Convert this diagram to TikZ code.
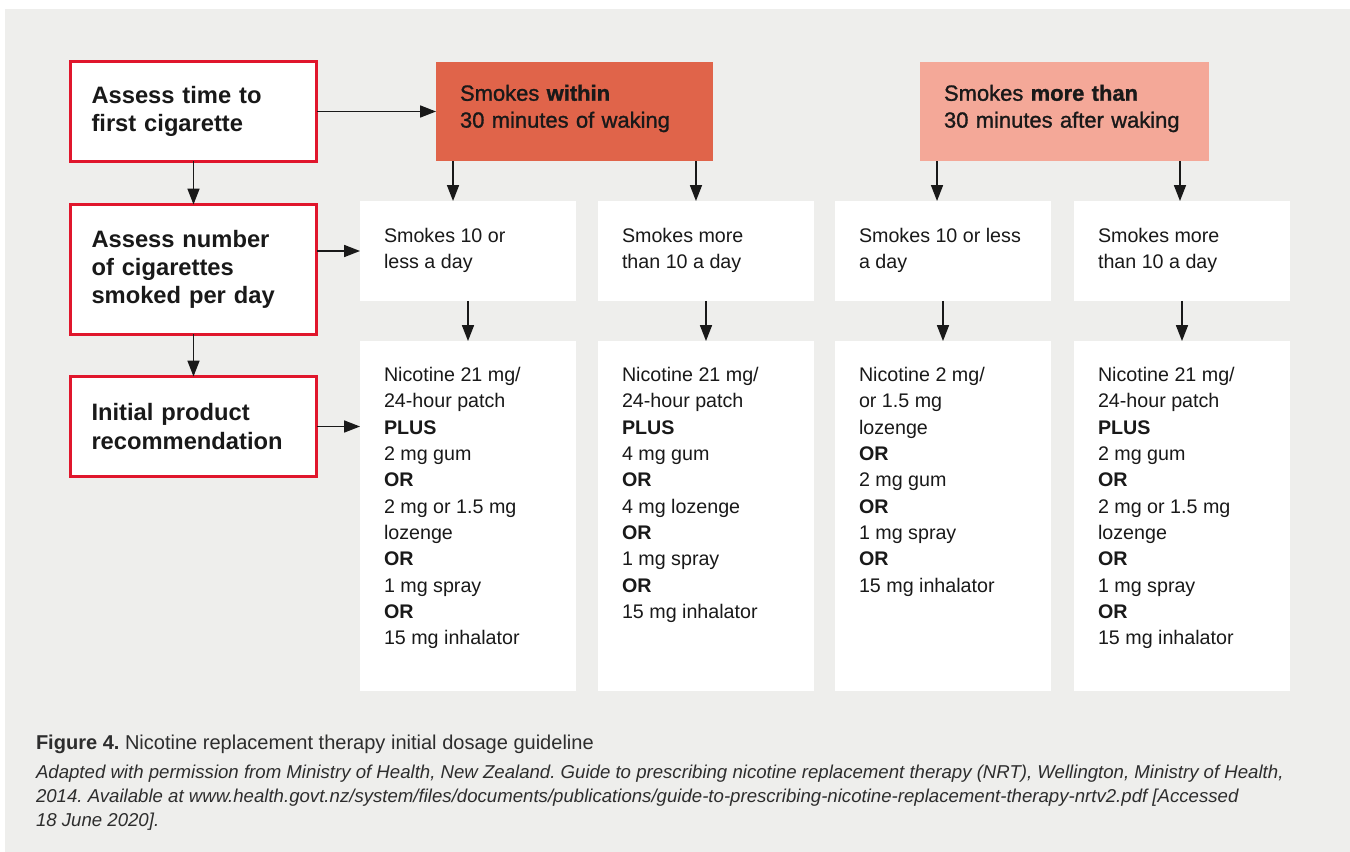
\documentclass[tikz,border=0pt]{standalone}
\usepackage{fontspec}
\setmainfont{Liberation Sans}
\newfontfamily\medfont{Liberation Sans}[FakeBold=1.2]
\usetikzlibrary{arrows.meta}
\definecolor{bggray}{RGB}{238,238,236}
\definecolor{boxred}{RGB}{224,22,44}
\definecolor{hdark}{RGB}{224,100,74}
\definecolor{hlight}{RGB}{244,168,152}
\definecolor{ink}{RGB}{25,25,25}
\definecolor{capink}{RGB}{45,45,45}
\frenchspacing

\begin{document}
\begin{tikzpicture}[x=0.02cm,y=-0.02cm,
    every node/.style={inner sep=0pt,outer sep=0pt,text=ink},
    assess/.style={draw=boxred,line width=1.7pt,fill=white,align=left,
      text width=4.08cm,inner xsep=0.43cm,minimum height=2cm,
      font=\fontsize{13.5}{16}\selectfont\bfseries},
    head/.style={align=left,inner xsep=0.48cm,minimum height=2cm,
      font=\fontsize{12.5}{15.3}\selectfont\medfont},
    card/.style={fill=white,minimum width=4.32cm},
    cardtxt/.style={anchor=north west,align=left,font=\fontsize{11.2}{15}\selectfont},
    arr/.style={-{Triangle[length=9pt,width=6.8pt]},line width=0.8pt,draw=ink}]

  \useasboundingbox (0,0) rectangle (1350,852);
  \fill[white] (0,0) rectangle (1350,852);
  \fill[bggray] (5,9) rectangle (1350,852);

  \node[assess] (a1) at (193.5,111.5) {Assess time to\\first cigarette};
  \node[assess,minimum height=2.6cm] (a2) at (193.5,269.5) {Assess number\\of cigarettes\\smoked per day};
  \node[assess] (a3) at (193.5,426.5) {Initial product\\recommendation};

  \node[head,fill=hdark,text width=4.58cm] (h1) at (574.5,111.5) {Smokes \textbf{within}\\30 minutes of waking\rule[-6pt]{0pt}{1pt}};
  \node[head,fill=hlight,text width=4.82cm] (h2) at (1064.5,111.5) {Smokes \textbf{more than}\\30 minutes after waking\rule[-6pt]{0pt}{1pt}};

  \node[card,minimum height=2cm] (r1) at (468,251) {};
  \node[card,minimum height=2cm] (r2) at (706,251) {};
  \node[card,minimum height=2cm] (r3) at (943,251) {};
  \node[card,minimum height=2cm] (r4) at (1182,251) {};

  \node[card,minimum height=7cm] (p1) at (468,516) {};
  \node[card,minimum height=7cm] (p2) at (706,516) {};
  \node[card,minimum height=7cm] (p3) at (943,516) {};
  \node[card,minimum height=7cm] (p4) at (1182,516) {};

  \node[cardtxt] (t1) at ([shift={(24,27)}]r1.north west) {Smokes 10 or\\less a day};
  \node[cardtxt] (t2) at ([shift={(24,27)}]r2.north west) {Smokes more\\than 10 a day};
  \node[cardtxt] (t3) at ([shift={(24,27)}]r3.north west) {Smokes 10 or less\\a day};
  \node[cardtxt] (t4) at ([shift={(24,27)}]r4.north west) {Smokes more\\than 10 a day};

  \node[cardtxt] (q1) at ([shift={(24,26)}]p1.north west) {Nicotine 21 mg/\\24-hour patch\\\textbf{PLUS}\\2 mg gum\\\textbf{OR}\\2 mg or 1.5 mg\\lozenge\\\textbf{OR}\\1 mg spray\\\textbf{OR}\\15 mg inhalator};
  \node[cardtxt] (q2) at ([shift={(24,26)}]p2.north west) {Nicotine 21 mg/\\24-hour patch\\\textbf{PLUS}\\4 mg gum\\\textbf{OR}\\4 mg lozenge\\\textbf{OR}\\1 mg spray\\\textbf{OR}\\15 mg inhalator};
  \node[cardtxt] (q3) at ([shift={(24,26)}]p3.north west) {Nicotine 2 mg/\\or 1.5 mg\\lozenge\\\textbf{OR}\\2 mg gum\\\textbf{OR}\\1 mg spray\\\textbf{OR}\\15 mg inhalator};
  \node[cardtxt] (q4) at ([shift={(24,26)}]p4.north west) {Nicotine 21 mg/\\24-hour patch\\\textbf{PLUS}\\2 mg gum\\\textbf{OR}\\2 mg or 1.5 mg\\lozenge\\\textbf{OR}\\1 mg spray\\\textbf{OR}\\15 mg inhalator};

  \node[anchor=base west,text=capink,font=\fontsize{11.4}{13.6}\selectfont] (fig) at (36,749) {\textbf{Figure 4.} Nicotine replacement therapy initial dosage guideline};
  \node[anchor=north west,align=left,text=capink,font=\fontsize{10.6}{13.6}\selectfont\itshape] (src) at (36,765) {Adapted with permission from Ministry of Health, New Zealand. Guide to prescribing nicotine replacement therapy (NRT), Wellington, Ministry of Health,\\2014. Available at www.health.govt.nz/system/files/documents/publications/guide-to-prescribing-nicotine-replacement-therapy-nrtv2.pdf [Accessed\\18 June 2020].};

  \draw[arr] (a1) -- (h1);
  \draw[arr] (a1) -- (a2);
  \draw[arr] (a2) -- (a3);
  \draw[arr] (a2.east |- r1.west) -- (r1.west);
  \draw[arr] (a3.east) -- (a3.east -| p1.west);
  \draw[arr] ([xshift=0.34cm]h1.south west) -- ([xshift=0.34cm]h1.south west |- r1.north);
  \draw[arr] ([xshift=-0.34cm]h1.south east) -- ([xshift=-0.34cm]h1.south east |- r2.north);
  \draw[arr] ([xshift=0.34cm]h2.south west) -- ([xshift=0.34cm]h2.south west |- r3.north);
  \draw[arr] ([xshift=-0.58cm]h2.south east) -- ([xshift=-0.58cm]h2.south east |- r4.north);
  \draw[arr] (r1) -- (p1);
  \draw[arr] (r2) -- (p2);
  \draw[arr] (r3) -- (p3);
  \draw[arr] (r4) -- (p4);
\end{tikzpicture}
\end{document}
